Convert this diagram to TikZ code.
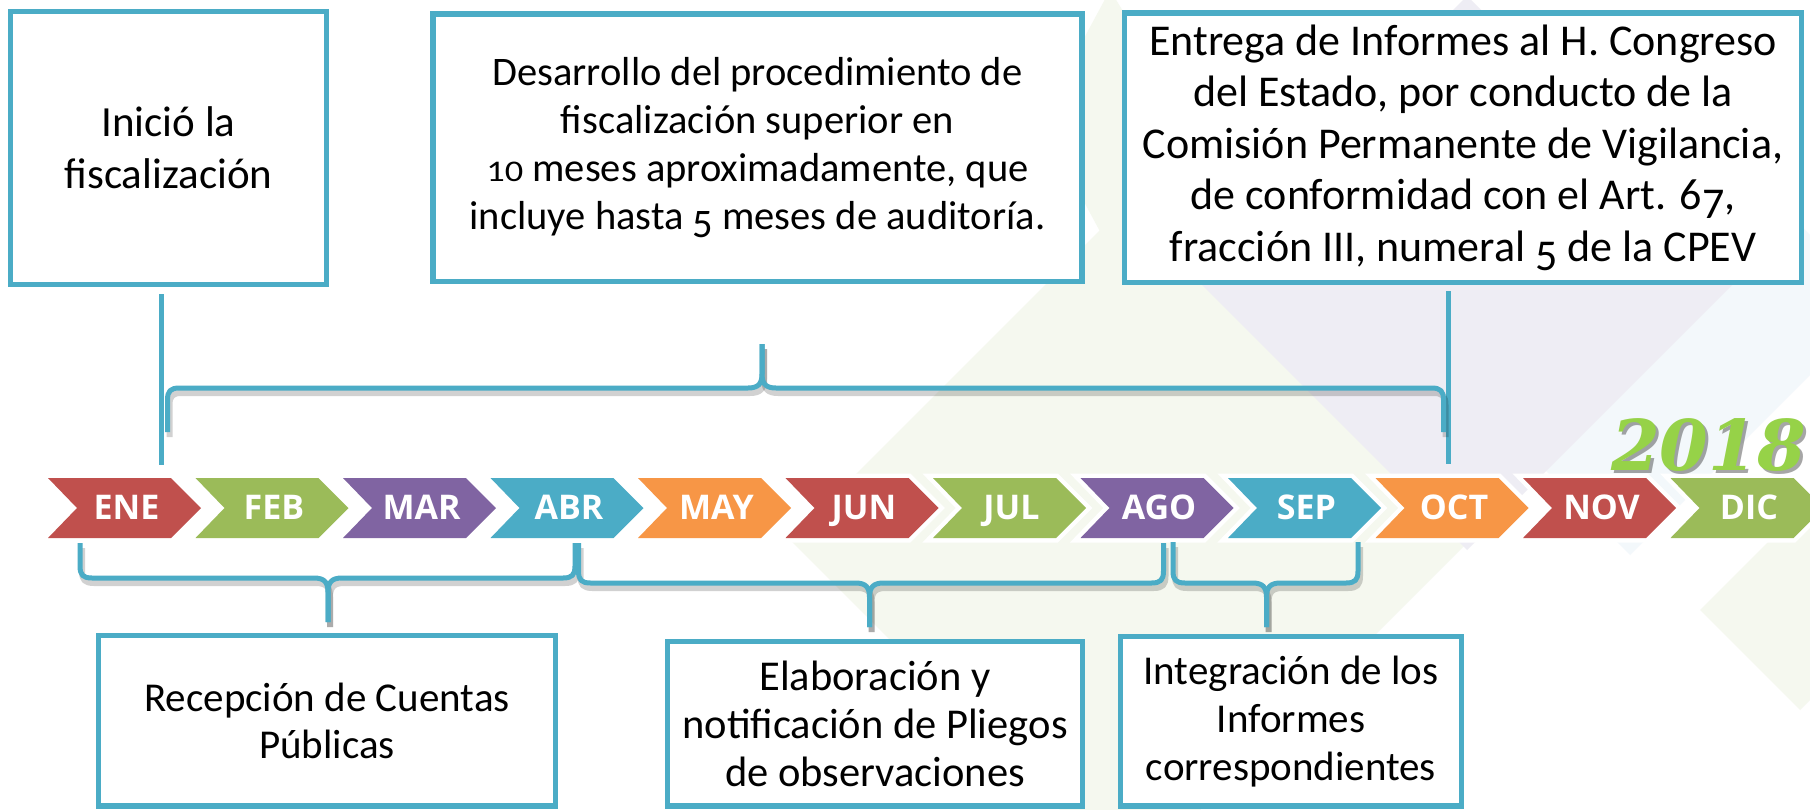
\documentclass[tikz,border=0pt]{standalone}
\usepackage{fontspec}
\usepackage{graphicx}
\setmainfont{Carlito}
\newfontfamily\monthfont{Open Sans}
\newfontfamily\yearfont{DejaVu Serif}
\usetikzlibrary{calc}
\definecolor{cred}{HTML}{C0504D}
\definecolor{cgreen}{HTML}{9BBB59}
\definecolor{cpurple}{HTML}{8064A2}
\definecolor{cblue}{HTML}{4BACC6}
\definecolor{corange}{HTML}{F79646}
\definecolor{framec}{HTML}{4BACC6}
\definecolor{yeargreen}{HTML}{96D248}
\definecolor{bggreen}{HTML}{F5F8EF}
\definecolor{bglav}{HTML}{EEEDF4}
\definecolor{bgblue}{HTML}{F3F8FB}
\newcommand\brk[8]{% style, xl, xr, yend, yh, xc, ytip, dir
  \draw[#1] (#2,#4) -- (#2,#5-12*#8) .. controls (#2,#5-3*#8) and (#2+3,#5) .. (#2+12,#5)
    -- (#6-14,#5) .. controls (#6-4,#5) and (#6,#5+4*#8) .. (#6,#5+14*#8) -- (#6,#7);
  \draw[#1] (#3,#4) -- (#3,#5-12*#8) .. controls (#3,#5-3*#8) and (#3-3,#5) .. (#3-12,#5)
    -- (#6+14,#5) .. controls (#6+4,#5) and (#6,#5+4*#8) .. (#6,#5+14*#8) -- (#6,#7);
}
\newcommand\brkfull[7]{%
  \begin{scope}[shift={(2,5)}]\brk{bshadow}{#1}{#2}{#3}{#4}{#5}{#6}{#7}\end{scope}
  \brk{bline}{#1}{#2}{#3}{#4}{#5}{#6}{#7}}
% old-style figure imitations
\newcommand\osmall[1]{\scalebox{0.9}[0.74]{#1}}
\newcommand\olow[1]{\raisebox{-0.2em}{#1}}
\begin{document}
\begin{tikzpicture}[x=1pt,y=-1pt,
  box/.style={draw=framec, line width=5.5pt, fill=white, inner sep=0pt, align=center, text=black},
  conn/.style={draw=framec, line width=5pt},
  bline/.style={draw=framec, line width=5pt, line join=round},
  bshadow/.style={draw=black, opacity=0.18, line width=6pt, line join=round},
  monthlabel/.style={anchor=base, inner sep=0pt, text=white, font=\monthfont\bfseries\fontsize{34}{34}\selectfont},
]
\useasboundingbox (0,0) rectangle (1810,809);
\fill[white] (0,0) rectangle (1810,809);
% background decoration
\fill[bggreen] (790,540) -- (1130,200) -- (1470,540) -- (1130,880) -- cycle;
\fill[bggreen] (1700,610) -- (1800,510) -- (1900,610) -- (1800,710) -- cycle;
\fill[bggreen] (1040,120) -- (1110,-10) -- (1190,120) -- (1110,250) -- cycle;
\fill[bgblue] (1380,305) -- (1630,55) -- (1880,305) -- (1630,555) -- cycle;
\fill[bglav] (1190,273) -- (1467,-4) -- (1744,273) -- (1467,550) -- cycle;

% boxes
\node[box, minimum width=316pt, minimum height=273pt, font=\fontsize{43}{52}\selectfont] (b1) at (168.5,148) {Inició la\\fiscalización};
\node[box, minimum width=649pt, minimum height=267.5pt, font=\fontsize{40.5}{48}\selectfont] (b2) at (757.5,147.8) {Desarrollo del procedimiento de\\fiscalización superior en\\\osmall{10} meses aproximadamente, que\\incluye hasta \olow{5} meses de auditoría.};
\node[box, minimum width=677pt, minimum height=269.5pt, font=\fontsize{44}{51.5}\selectfont] (b3) at (1463,147.7) {Entrega de Informes al H. Congreso\\del Estado, por conducto de la\\Comisión Permanente de Vigilancia,\\de conformidad con el Art. 6\olow{7},\\fracción III, numeral \olow{5} de la CPEV};
\node[box, minimum width=457pt, minimum height=170.5pt, font=\fontsize{41}{47}\selectfont] (b4) at (327,720.75) {Recepción de Cuentas\\Públicas};
\node[box, minimum width=415pt, minimum height=164.5pt, font=\fontsize{42.5}{48}\selectfont] (b5) at (875,723.75) {Elaboración y\\notificación de Pliegos\\de observaciones};
\node[box, minimum width=341pt, minimum height=169.5pt, font=\fontsize{41}{48}\selectfont] (b6) at (1291,721.25) {Integración de los\\Informes\\correspondientes};

% chevrons
\foreach \i/\c/\m in {0/cred/ENE,1/cgreen/FEB,2/cpurple/MAR,3/cblue/ABR,4/corange/MAY,5/cred/JUN,6/cgreen/JUL,7/cpurple/AGO,8/cblue/SEP,9/corange/OCT,10/cred/NOV,11/cgreen/DIC}{
  \pgfmathsetmacro\xo{48+147.5*\i}
  \draw[white, line width=9pt, line join=miter] (\xo,478) -- ++(123,0) -- ++(30,30) -- ++(-30,30) -- ++(-123,0) -- ++(29,-30) -- cycle;
}
\foreach \i/\c/\m in {0/cred/ENE,1/cgreen/FEB,2/cpurple/MAR,3/cblue/ABR,4/corange/MAY,5/cred/JUN,6/cgreen/JUL,7/cpurple/AGO,8/cblue/SEP,9/corange/OCT,10/cred/NOV,11/cgreen/DIC}{
  \pgfmathsetmacro\xo{48+147.5*\i}
  \fill[\c] (\xo,478) -- ++(123,0) -- ++(30,30) -- ++(-30,30) -- ++(-123,0) -- ++(29,-30) -- cycle;
  \node[monthlabel] (m\i) at (\xo+78.5,519) {\m};
}

% connectors
\coordinate (c1) at (161,465);
\coordinate (c3) at (1448,464);
\draw[conn] ([yshift=-7pt]b1.south -| c1) -- (c1);
\draw[conn] ([yshift=-6pt]b3.south -| c3) -- (c3);

% brackets
\brkfull{167.5}{1443.5}{432}{388}{762}{344}{-1}
\brkfull{80}{575}{543}{578}{328}{622}{1}
\brkfull{578.5}{1163.5}{543}{583}{869.5}{627}{1}
\brkfull{1173}{1358}{542}{583}{1266.5}{627}{1}

% year
\node[anchor=base west, inner sep=0pt, text=black, opacity=0.35, font=\yearfont\bfseries\itshape\fontsize{70}{70}\selectfont] (yrs) at (1614,473) {2018};
\node[anchor=base west, inner sep=0pt, text=yeargreen, font=\yearfont\bfseries\itshape\fontsize{70}{70}\selectfont] (yr) at (1611,470) {2018};
\end{tikzpicture}
\end{document}
